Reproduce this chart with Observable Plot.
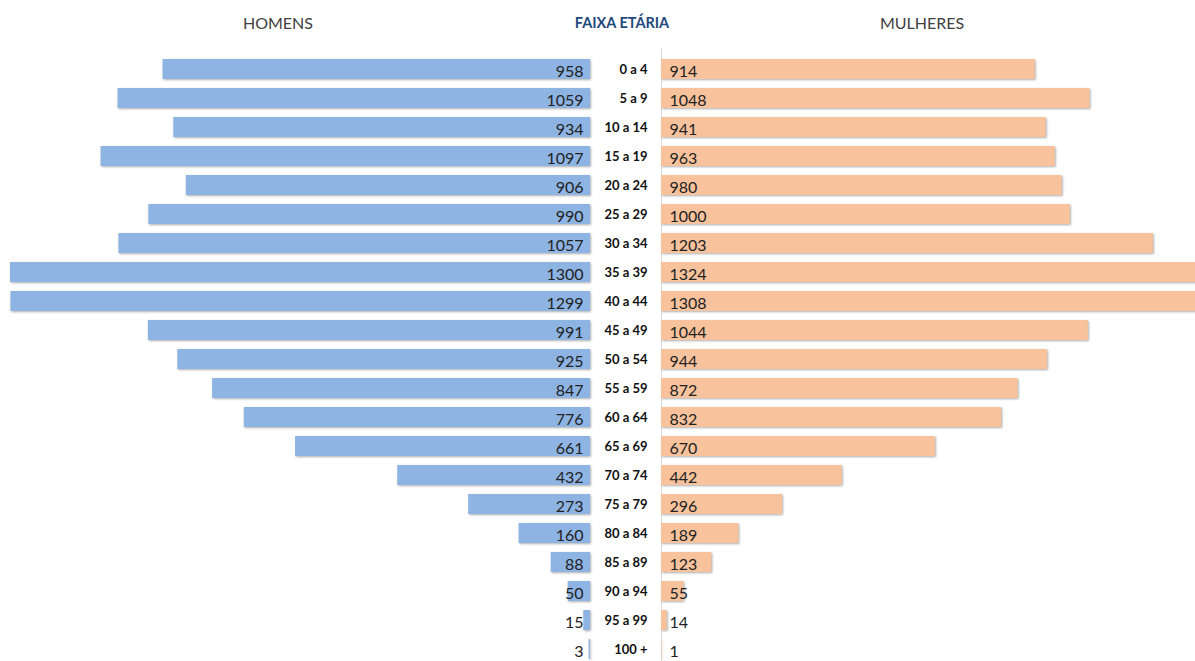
<!DOCTYPE html>
<html>
<head>
<meta charset="utf-8">
<script src="https://cdn.jsdelivr.net/npm/d3@7"></script>
<script src="https://cdn.jsdelivr.net/npm/@observablehq/plot@0.6"></script>
<style>
  html, body { margin: 0; padding: 0; background: #fff; }
  #wrap { position: relative; width: 1195px; height: 661px; overflow: hidden; font-family: Lato, "Open Sans", sans-serif; }
  #wrap svg { position: absolute; left: 0; top: 0; }
  .hdr { position: absolute; top: 13px; transform: translateX(-50%); white-space: nowrap; }
  #h1 { left: 278px; font-size: 16px; color: #404040; }
  #h2 { left: 622px; font-size: 14.5px; font-weight: bold; color: #1F497D; top: 14px; }
  #h3 { left: 922px; font-size: 16px; color: #404040; }
  g[aria-label="bar"] { filter: drop-shadow(1.5px 1.5px 1px rgba(0,0,0,0.32)); }
</style>
</head>
<body>
<div id="wrap">
  <div class="hdr" id="h1">HOMENS</div>
  <div class="hdr" id="h2">FAIXA ETÁRIA</div>
  <div class="hdr" id="h3">MULHERES</div>
</div>
<script>
const ages = ["0 a 4","5 a 9","10 a 14","15 a 19","20 a 24","25 a 29","30 a 34","35 a 39","40 a 44","45 a 49","50 a 54","55 a 59","60 a 64","65 a 69","70 a 74","75 a 79","80 a 84","85 a 89","90 a 94","95 a 99","100 +"];
const homens = [958,1059,934,1097,906,990,1057,1300,1299,991,925,847,776,661,432,273,160,88,50,15,3];
const mulheres = [914,1048,941,963,980,1000,1203,1324,1308,1044,944,872,832,670,442,296,189,123,55,14,1];

const men = ages.map((a, i) => ({age: a, value: homens[i]}));
const women = ages.map((a, i) => ({age: a, value: mulheres[i]}));

const W = 1195, H = 674;
const svgStyle = {background: "transparent", overflow: "visible"};

const left = Plot.plot({
  width: W, height: H,
  marginTop: 44, marginBottom: 0, marginLeft: 10, marginRight: 605,
  style: svgStyle,
  x: {domain: [0, 1300], reverse: true, axis: null},
  y: {domain: ages, padding: 0.32, axis: null},
  marks: [
    Plot.barX(men, {x: "value", y: "age", fill: "#8DB4E2"}),
    Plot.text(men, {x: 0, y: "age", text: d => String(d.value), textAnchor: "end", dx: -7, dy: 2,
      fontSize: 16, fill: "#222", fontFamily: "Lato, 'Open Sans', sans-serif"})
  ]
});

const right = Plot.plot({
  width: W, height: H,
  marginTop: 44, marginBottom: 0, marginLeft: 661, marginRight: 0,
  style: svgStyle,
  x: {domain: [0, 1306], axis: null},
  y: {domain: ages, padding: 0.32, axis: null},
  marks: [
    Plot.ruleX([0], {stroke: "#d9d9d9", strokeWidth: 1, insetTop: 4}),
    Plot.barX(women, {x: "value", y: "age", fill: "#F8C29C"}),
    Plot.text(women, {x: 0, y: "age", text: d => String(d.value), textAnchor: "start", dx: 8, dy: 2,
      fontSize: 16, fill: "#222", fontFamily: "Lato, 'Open Sans', sans-serif"}),
    Plot.text(women, {x: 0, y: "age", text: "age", textAnchor: "end", dx: -14, dy: 0.5,
      fontSize: 13, fontWeight: "bold", fill: "#111", fontFamily: "Lato, 'Open Sans', sans-serif"})
  ]
});

const wrap = document.getElementById("wrap");
wrap.appendChild(left);
wrap.appendChild(right);
</script>
</body>
</html>
